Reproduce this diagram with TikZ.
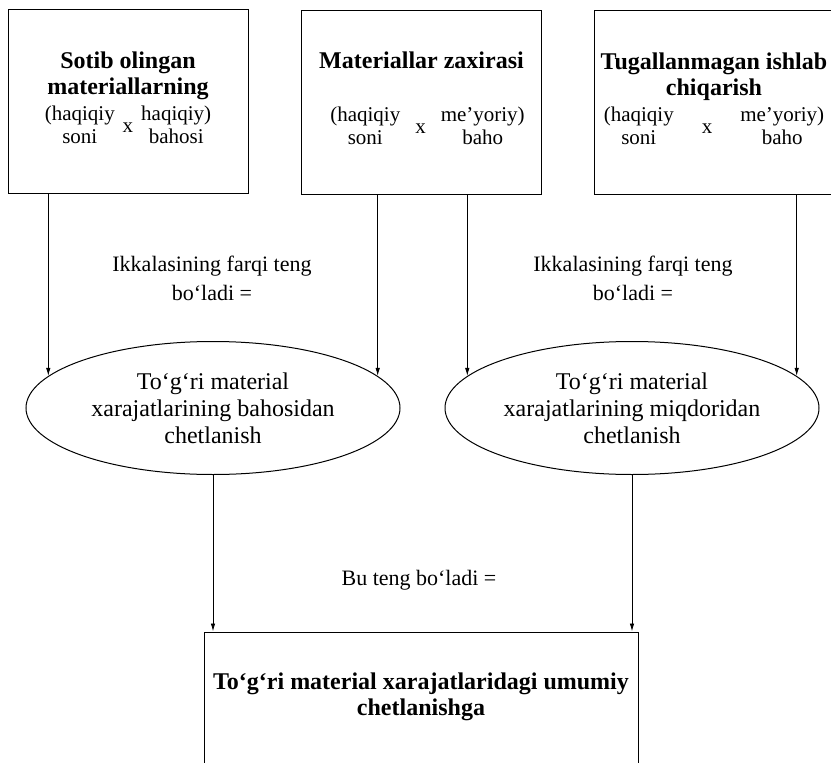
\documentclass[tikz,border=0pt]{standalone}
\usepackage{fontspec}
\setmainfont{Liberation Serif}
\usetikzlibrary{shapes.geometric,arrows.meta}

% sarlavha qatori
\newcommand{\sarlavha}[1]{{\fontsize{24}{26}\selectfont\bfseries #1}}
% (soni x baho) ko'paytmasi
\newcommand{\hisob}[5][8pt]{%
  {\fontsize{21}{23}\selectfont
  \begin{tabular}[t]{@{}c@{\hspace{#1}}c@{\hspace{#1}}c@{}}
    #2 & \raisebox{-12pt}[0pt][0pt]{x} & #4\\
    #3 & & #5
  \end{tabular}}}

\tikzset{
  blok/.style={draw, line width=1pt, minimum width=240pt, minimum height=184pt,
    align=center, inner sep=2pt},
  oval/.style={draw, ellipse, line width=1pt, minimum width=374pt, minimum height=133pt,
    align=center, inner sep=0pt, font=\fontsize{24}{27}\selectfont},
  izoh/.style={align=center, font=\fontsize{22}{29}\selectfont},
  strelka/.style={-{Latex[length=8pt,width=4.5pt]}, line width=0.9pt}
}

\begin{document}
\begin{tikzpicture}[x=1pt, y=-1pt, every node/.style={font=\fontsize{22}{26}\selectfont}]
\useasboundingbox (0,0) rectangle (831,763);

% Yuqori bloklar
\node[blok] (sotib) at (128,101)
  {\sarlavha{Sotib olingan}\\ \sarlavha{materiallarning}\\
   \hisob{(haqiqiy}{soni}{haqiqiy)}{bahosi}\rule[-6pt]{0pt}{6pt}};
\node[blok] (zaxira) at (421.5,102)
  {\sarlavha{Materiallar zaxirasi}\\[27pt]
   \hspace{12pt}\hisob[15pt]{(haqiqiy}{soni}{me’yoriy)}{baho}\rule[-6pt]{0pt}{6pt}};
\node[blok] (tugal) at (714,102)
  {\sarlavha{Tugallanmagan ishlab}\\ \sarlavha{chiqarish}\\
   \hisob[28pt]{(haqiqiy}{soni}{me’yoriy)}{baho}\rule[-6pt]{0pt}{6pt}};

% Chetlanishlar
\node[oval] (baho) at (213,408) {To‘g‘ri material\\ xarajatlarining bahosidan\\ chetlanish};
\node[oval] (miqdor) at (632,408) {To‘g‘ri material\\ xarajatlarining miqdoridan\\ chetlanish};

% Umumiy chetlanish
\node[blok, minimum width=434pt, minimum height=140pt] (jami) at (421,702)
  {\sarlavha{To‘g‘ri material xarajatlaridagi umumiy}\\
   \sarlavha{chetlanishga}\rule[-16pt]{0pt}{16pt}};

% Izohlar
\node[izoh] (farq1) at (212,278) {Ikkalasining farqi teng\\ bo‘ladi =};
\node[izoh] (farq2) at (633,278) {Ikkalasining farqi teng\\ bo‘ladi =};
\node[izoh] (teng) at (419,580) {Bu teng bo‘ladi =};

% Strelkalar
\draw[strelka] (sotib.south -| baho.169) -- (baho.169);
\draw[strelka] (zaxira.south -| baho.11) -- (baho.11);
\draw[strelka] (zaxira.south -| miqdor.169) -- (miqdor.169);
\draw[strelka] (tugal.south -| miqdor.11) -- (miqdor.11);
\draw[strelka] (baho.south) -- (baho.south |- jami.north);
\draw[strelka] (miqdor.south) -- (miqdor.south |- jami.north);
\end{tikzpicture}
\end{document}
